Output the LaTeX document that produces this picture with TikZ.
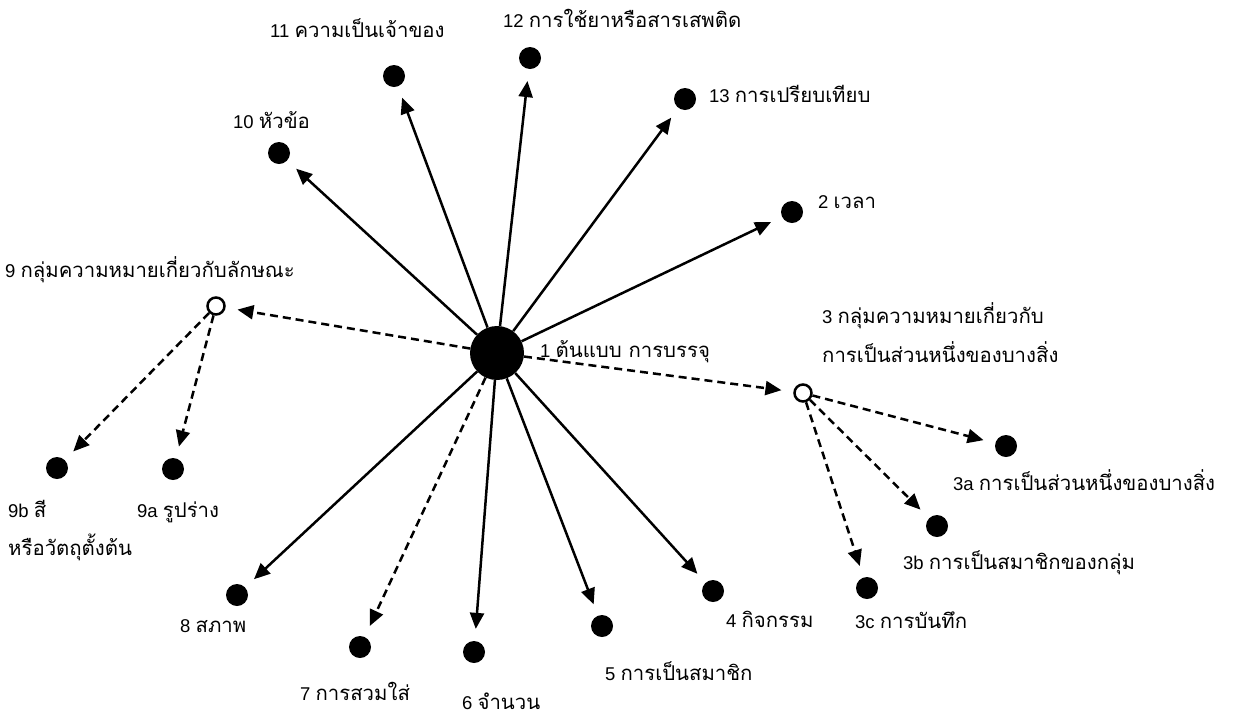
\documentclass[tikz,border=0pt]{standalone}
\usepackage{fontspec}
\setmainfont{Liberation Sans}
\newfontfamily\thaifont[Script=Thai,Scale=1.1]{Loma}
\usetikzlibrary{arrows.meta}

\begin{document}
\begin{tikzpicture}[x=1pt,y=-1pt,
		dot/.style={circle,fill=black,inner sep=0pt,minimum size=22pt},
		hub/.style={circle,draw=black,fill=white,line width=2.5pt,inner sep=0pt,minimum size=17pt},
		lab/.style={anchor=base west,inner sep=0pt,font=\fontsize{18.5}{22}\selectfont},
		link/.style={line width=2.5pt,-{Triangle[length=16pt,width=14pt]},shorten >=12pt},
		dlink/.style={link,dash pattern=on 8pt off 5pt}]
			%%%%% START %%%%%
			\useasboundingbox (0,0) rectangle (1234,716);
			
			\node[circle,fill=black,inner sep=0pt,minimum size=54pt] (c1) at (497,353) {};
			\node[lab] (l1) at (540,357) {1 {\thaifont ต้นแบบ การบรรจุ}};
			
			\node[dot] (d2) at (792,212) {};
			\node[lab] (l2) at (818,208) {2 {\thaifont เวลา}};
			\node[dot] (d10) at (279,153) {};
			\node[lab] (l10) at (233,128) {10 {\thaifont หัวข้อ}};
			\node[dot] (d11) at (394,76) {};
			\node[lab] (l11) at (270,37) {11 {\thaifont ความเป็นเจ้าของ}};
			\node[dot] (d12) at (530,58) {};
			\node[lab] (l12) at (503,27) {12 {\thaifont การใช้ยาหรือสารเสพติด}};
			\node[dot] (d13) at (685,99) {};
			\node[lab] (l13) at (709,102) {13 {\thaifont การเปรียบเทียบ}};
			
			\node[dot] (d4) at (713,591) {};
			\node[lab] (l4) at (726,627) {4 {\thaifont กิจกรรม}};
			\node[dot] (d5) at (602,626) {};
			\node[lab] (l5) at (605,680) {5 {\thaifont การเป็นสมาชิก}};
			\node[dot] (d6) at (474,652) {};
			\node[lab] (l6) at (462,709) {6 {\thaifont จำนวน}};
			\node[dot] (d7) at (360,647) {};
			\node[lab] (l7) at (300,700) {7 {\thaifont การสวมใส่}};
			\node[dot] (d8) at (237,595) {};
			\node[lab] (l8) at (180,632) {8 {\thaifont สภาพ}};
			
			% group 9
			\node[hub] (h9) at (216,306) {};
			\node[lab] (l9) at (5,277) {9 {\thaifont กลุ่มความหมายเกี่ยวกับลักษณะ}};
			\node[dot] (d9a) at (173,469) {};
			\node[lab] (l9a) at (137,517) {9a {\thaifont รูปร่าง}};
			\node[dot] (d9b) at (57,468) {};
			\node[lab] (l9b) at (8,517) {9b {\thaifont สี}};
			\node[lab] (l9bb) at (8,555) {\thaifont หรือวัตถุตั้งต้น};
			
			% group 3
			\node[hub] (h3) at (803,393) {};
			\node[lab] (l3) at (822,323) {3 {\thaifont กลุ่มความหมายเกี่ยวกับ}};
			\node[lab] (l3b) at (822,362) {\thaifont การเป็นส่วนหนึ่งของบางสิ่ง};
			\node[dot] (d3a) at (1006,446) {};
			\node[lab] (l3a) at (953,490) {3a {\thaifont การเป็นส่วนหนึ่งของบางสิ่ง}};
			\node[dot] (d3b) at (937,526) {};
			\node[lab] (l3bb) at (903,569) {3b {\thaifont การเป็นสมาชิกของกลุ่ม}};
			\node[dot] (d3c) at (867,588) {};
			\node[lab] (l3c) at (855,628) {3c {\thaifont การบันทึก}};
			
			% arrows
			\draw[link] (c1) -- (d2);
			\draw[link] (c1) -- (d10);
			\draw[link] (c1) -- (d11);
			\draw[link] (c1) -- (d12);
			\draw[link] (c1) -- (d13);
			\draw[link] (c1) -- (d4);
			\draw[link] (c1) -- (d5);
			\draw[link] (c1) -- (d6);
			\draw[link] (c1) -- (d8);
			\draw[dlink] (c1) -- (d7);
			\draw[dlink] (c1) -- (h9);
			\draw[dlink] (c1) -- (h3);
			
			\draw[dlink] (h9) -- (d9a);
			\draw[dlink] (h9) -- (d9b);
			\draw[dlink] (h3) -- (d3a);
			\draw[dlink] (h3) -- (d3b);
			\draw[dlink] (h3) -- (d3c);
			%%%%% END %%%%%
		\end{tikzpicture}
\end{document}
